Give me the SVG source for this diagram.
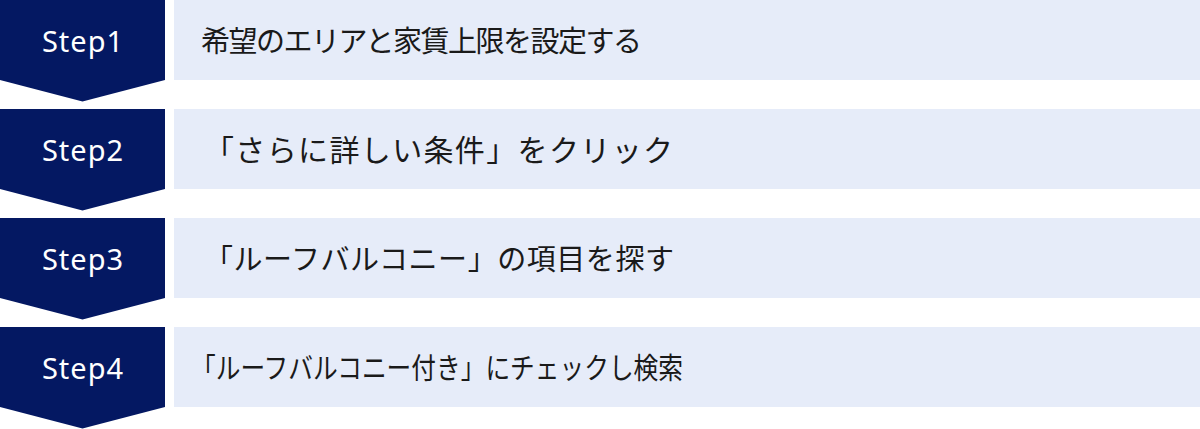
<svg xmlns="http://www.w3.org/2000/svg" width="1200" height="429" viewBox="0 0 1200 429">
<style>
.badge{fill:#041862}
.bar{fill:#e6ecf9}
.step{font-family:"Noto Sans","DejaVu Sans",sans-serif;font-size:29px;fill:#ffffff;text-anchor:middle;letter-spacing:1px}
.label{font-family:"Noto Sans CJK JP","Noto Sans",sans-serif;font-size:29px;fill:#1a1a1a}
</style>
<g id="connectors"></g>
<g id="step1">
<rect class="bar" x="174" y="0" width="1026" height="80"/>
<path class="badge" d="M0,0H165V80L82.5,101.5L0,80Z"/>
<text class="step" x="83" y="52">Step1</text>
<text class="label" x="201" y="52" textLength="441" lengthAdjust="spacing">希望のエリアと家賃上限を設定する</text>
</g>
<g id="step2">
<rect class="bar" x="174" y="109" width="1026" height="80"/>
<path class="badge" d="M0,109H165V189L82.5,210.5L0,189Z"/>
<text class="step" x="83" y="161">Step2</text>
<text class="label" x="204" y="161" style="font-size:30px" textLength="469" lengthAdjust="spacing">「さらに詳しい条件」をクリック</text>
</g>
<g id="step3">
<rect class="bar" x="174" y="218" width="1026" height="80"/>
<path class="badge" d="M0,218H165V298L82.5,319.5L0,298Z"/>
<text class="step" x="83" y="270">Step3</text>
<text class="label" x="204" y="270" textLength="470" lengthAdjust="spacing">「ルーフバルコニー」の項目を探す</text>
</g>
<g id="step4">
<rect class="bar" x="174" y="327" width="1026" height="80"/>
<path class="badge" d="M0,327H165V407L82.5,428.5L0,407Z"/>
<text class="step" x="83" y="379">Step4</text>
<text class="label" x="191" y="379" textLength="492" lengthAdjust="spacingAndGlyphs">「ルーフバルコニー付き」にチェックし検索</text>
</g>
</svg>
